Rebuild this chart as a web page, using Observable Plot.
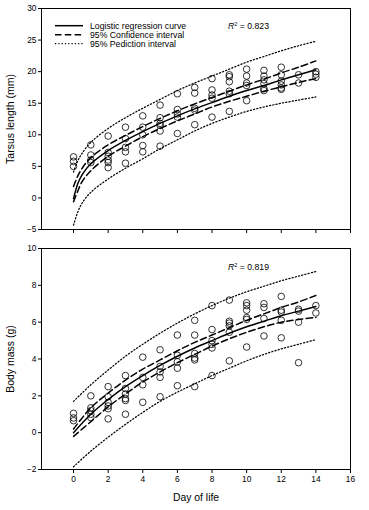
<!DOCTYPE html>
<html><head><meta charset="utf-8">
<script src="https://cdn.jsdelivr.net/npm/d3@7"></script>
<script src="https://cdn.jsdelivr.net/npm/@observablehq/plot@0.6"></script>
<style>
html,body{margin:0;padding:0;background:#fff;}
#wrap{position:relative;width:369px;height:510px;font-family:"Liberation Sans",Arial,sans-serif;color:#000;}
#wrap > svg{display:block;}
.ov{position:absolute;left:0;top:0;pointer-events:none;}
</style></head><body><div id="wrap"></div>
<script>
// ---- data ----
const tarsusByDay = [
  [6.5, 5.8, 5.0],
  [8.4, 6.8, 6.0, 5.6],
  [9.8, 7.2, 6.6, 6.0, 5.6, 4.8],
  [11.2, 9.4, 8.0, 7.3, 5.5],
  [13.0, 11.2, 10.0, 8.3, 7.3],
  [14.7, 12.7, 11.8, 11.5, 10.6, 8.2],
  [16.5, 14.0, 13.3, 12.8, 10.2],
  [17.5, 16.6, 14.2, 13.9, 11.6],
  [18.9, 17.1, 16.3, 15.8, 12.8],
  [19.5, 19.2, 18.4, 16.9, 16.5, 13.7],
  [20.4, 19.3, 18.2, 17.8, 15.4],
  [20.2, 19.3, 18.7, 18.1, 17.3, 17.0],
  [20.7, 19.5, 18.5, 17.9, 17.4, 17.2],
  [19.5, 18.2],
  [20.0, 19.6, 19.1]
];
const massByDay = [
  [1.05, 0.8, 0.65],
  [2.0, 1.35, 1.2, 1.0, 0.82],
  [2.5, 1.95, 1.65, 1.45, 1.3, 0.75],
  [3.1, 2.4, 2.1, 1.85, 1.75, 1.0],
  [4.1, 3.0, 2.6, 1.65],
  [4.5, 3.6, 3.3, 3.0, 1.95],
  [5.3, 4.2, 3.85, 3.5, 2.55],
  [6.1, 5.3, 4.3, 4.05, 3.95, 2.5],
  [6.9, 5.6, 5.0, 4.8, 4.6, 3.1],
  [7.2, 6.05, 5.95, 5.8, 5.45, 3.9],
  [7.05, 6.9, 6.65, 6.25, 6.15, 4.65],
  [7.0, 6.8, 6.2, 5.25],
  [7.4, 6.65, 6.55, 6.1, 5.15],
  [6.7, 6.6, 6.0, 3.8],
  [6.9, 6.5]
];

const tarsusCurveDays = [0, 0.25, 0.5, 1, 2, 3, 4, 5, 6, 7, 8, 9, 10, 11, 12, 13, 14];
const tarsusFit  = [-0.1, 2.3, 3.7, 5.4, 7.5, 9.1, 10.5, 11.8, 13.0, 14.1, 15.1, 16.1, 17.0, 17.8, 18.7, 19.5, 20.3];
const tarsusCIhi = [1.8, 3.5, 4.7, 6.4, 8.4, 9.9, 11.3, 12.6, 13.8, 14.9, 15.9, 16.9, 17.9, 18.8, 19.8, 20.7, 21.7];
const tarsusCIlo = [-0.6, 1.1, 2.6, 4.3, 6.6, 8.2, 9.7, 11.0, 12.2, 13.3, 14.4, 15.3, 16.1, 16.9, 17.6, 18.3, 18.9];
const tarsusPIhi = [4.1, 5.9, 7.1, 8.8, 11.0, 12.7, 14.2, 15.6, 17.0, 18.2, 19.3, 20.4, 21.5, 22.4, 23.3, 24.1, 24.8];
const tarsusPIlo = [-4.3, -2.2, -0.8, 0.9, 3.0, 4.7, 6.2, 7.8, 9.2, 10.6, 11.8, 12.8, 13.7, 14.4, 15.0, 15.5, 16.0];

const massCurveDays = [0, 1, 2, 3, 4, 5, 6, 7, 8, 9, 10, 11, 12, 13, 14];
const massFit  = [0.0, 1.0, 1.8, 2.5, 3.1, 3.65, 4.15, 4.6, 5.0, 5.4, 5.75, 6.05, 6.35, 6.6, 6.85];
const massCIhi = [0.2, 1.35, 2.15, 2.85, 3.45, 3.95, 4.45, 4.9, 5.3, 5.7, 6.1, 6.45, 6.8, 7.1, 7.45];
const massCIlo = [-0.2, 0.6, 1.4, 2.1, 2.75, 3.3, 3.8, 4.25, 4.7, 5.1, 5.45, 5.75, 6.0, 6.15, 6.25];
const massPIhi = [1.7, 2.6, 3.4, 4.15, 4.8, 5.4, 5.95, 6.45, 6.9, 7.3, 7.65, 7.95, 8.25, 8.5, 8.75];
const massPIlo = [-1.85, -1.0, -0.25, 0.45, 1.1, 1.7, 2.2, 2.65, 3.1, 3.5, 3.9, 4.25, 4.55, 4.8, 5.05];

const xTicks = [0, 2, 4, 6, 8, 10, 12, 14, 16];
const tarsusYTicks = [-5, 0, 5, 10, 15, 20, 25, 30];
const massYTicks = [-2, 0, 2, 4, 6, 8, 10];
const legendLabels = ["Logistic regression curve", "95% Confidence interval", "95% Pediction interval"];
const r2Tarsus = "0.823";
const r2Mass = "0.819";

// ---- helpers ----
const points = byDay => byDay.flatMap((vals, d) => vals.map(v => ({day: d, v})));
const curve = (days, vals) => days.map((d, i) => ({day: d, v: vals[i]}));
const FONT = "'Liberation Sans', Arial, sans-serif";
const styleSolid = {stroke: "#000", strokeWidth: 1.5};
const styleDash = {stroke: "#000", strokeWidth: 1.5, strokeDasharray: "6.5,3.3"};
const styleDot = {stroke: "#000", strokeWidth: 1.25, strokeDasharray: "1.2,2.1"};

function curveMarks(days, fit, cil, cih, pil, pih) {
  const opt = {x: "day", y: "v", curve: "catmull-rom"};
  return [
    Plot.line(curve(days, pih), {...opt, ...styleDot}),
    Plot.line(curve(days, pil), {...opt, ...styleDot}),
    Plot.line(curve(days, cih), {...opt, ...styleDash}),
    Plot.line(curve(days, cil), {...opt, ...styleDash}),
    Plot.line(curve(days, fit), {...opt, ...styleSolid})
  ];
}

const common = {
  width: 369,
  marginLeft: 41,
  marginRight: 19,
  style: {fontFamily: FONT, fontSize: "8.4px", color: "#000", background: "#fff"},
  x: {domain: [-1.85, 16]}
};

const topPlot = Plot.plot({
  ...common,
  height: 240,
  marginTop: 8,
  marginBottom: 11,
  y: {domain: [-5, 30]},
  marks: [
    Plot.axisY({ticks: tarsusYTicks, tickSize: 3, tickPadding: 2, label: null, fontSize: 8.4}),
    Plot.axisX({ticks: xTicks, tickSize: 4, tickFormat: () => "", label: null}),
    ...curveMarks(tarsusCurveDays, tarsusFit, tarsusCIlo, tarsusCIhi, tarsusPIlo, tarsusPIhi),
    Plot.dot(points(tarsusByDay), {x: "day", y: "v", r: 3.3, stroke: "#000", strokeWidth: 0.8, fill: "none"}),
    Plot.text(["Tarsus length (mm)"], {frameAnchor: "left", textAnchor: "middle", rotate: -90, dx: -31, fontSize: 10.5}),
    Plot.frame({stroke: "#000", strokeWidth: 1})
  ]
});

const bottomPlot = Plot.plot({
  ...common,
  height: 270,
  marginTop: 8,
  marginBottom: 41,
  y: {domain: [-2, 10]},
  marks: [
    Plot.axisY({ticks: massYTicks, tickSize: 3, tickPadding: 2, label: null, fontSize: 8.4}),
    Plot.axisX({ticks: xTicks, tickSize: 4, tickPadding: 3, label: null, fontSize: 8.4}),
    ...curveMarks(massCurveDays, massFit, massCIlo, massCIhi, massPIlo, massPIhi),
    Plot.dot(points(massByDay), {x: "day", y: "v", r: 3.3, stroke: "#000", strokeWidth: 0.8, fill: "none"}),
    Plot.text(["Body mass (g)"], {frameAnchor: "left", textAnchor: "middle", rotate: -90, dx: -31, fontSize: 10.5}),
    Plot.text(["Day of life"], {frameAnchor: "bottom", dy: 31, fontSize: 10.4}),
    Plot.frame({stroke: "#000", strokeWidth: 1})
  ]
});

const wrap = document.getElementById("wrap");
wrap.appendChild(topPlot);
wrap.appendChild(bottomPlot);

// ---- overlay: legend + R² annotations ----
const ov = d3.select(wrap).append("svg").attr("class", "ov")
  .attr("width", 369).attr("height", 510)
  .style("font-family", FONT);
const legStyles = [styleSolid, styleDash, styleDot];
legendLabels.forEach((lab, i) => {
  const yy = 25.7 + i * 9;
  const s = legStyles[i];
  ov.append("line").attr("x1", 55).attr("x2", 83).attr("y1", yy).attr("y2", yy)
    .attr("stroke", s.stroke).attr("stroke-width", s.strokeWidth)
    .attr("stroke-dasharray", s.strokeDasharray || null);
  ov.append("text").attr("x", 90).attr("y", yy).attr("dy", "0.35em")
    .attr("font-size", 8.7).text(lab);
});
function r2(x, y, val) {
  const t = ov.append("text").attr("x", x).attr("y", y).attr("dy", "0.35em").attr("font-size", 8.7);
  t.append("tspan").attr("font-style", "italic").text("R");
  t.append("tspan").attr("font-size", 5.5).attr("dy", "-0.55em").text("2");
  t.append("tspan").attr("font-size", 8.7).attr("dy", "0.35em").text(" = " + val);
}
r2(228, 26.3, r2Tarsus);
r2(228, 266.5, r2Mass);
</script></body></html>
